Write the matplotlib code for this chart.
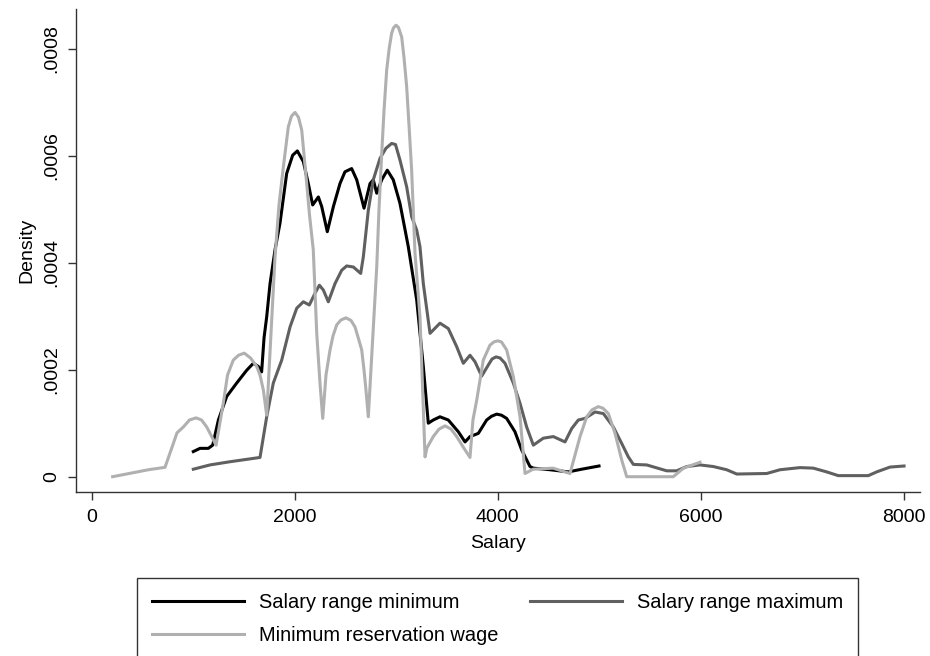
import matplotlib
matplotlib.use("Agg")
import matplotlib.pyplot as plt
from matplotlib.ticker import FuncFormatter

plt.rcParams['font.family'] = ['Liberation Sans', 'DejaVu Sans']

# Salary range minimum (black)
min_x = [1003, 1069, 1151, 1194, 1250, 1332, 1430, 1529, 1594, 1644, 1676, 1700, 1726, 1759,
         1808, 1857, 1923, 1982, 2028, 2087, 2136, 2179, 2235, 2268, 2323, 2383, 2448, 2497,
         2563, 2613, 2685, 2744, 2776, 2810, 2859, 2914, 2973, 3039, 3121, 3204, 3269, 3318,
         3367, 3433, 3515, 3614, 3680, 3729, 3811, 3893, 3941, 3992, 4039, 4090, 4172, 4238,
         4320, 4353, 4517, 4698, 4829, 5000]
min_y = [4.7e-5, 5.3e-5, 5.3e-5, 5.9e-5, 1.06e-4, 1.50e-4, 1.75e-4, 1.99e-4, 2.12e-4, 2.06e-4,
         1.96e-4, 2.6e-4, 2.99e-4, 3.61e-4, 4.24e-4, 4.74e-4, 5.67e-4, 6.01e-4, 6.09e-4, 5.89e-4,
         5.48e-4, 5.08e-4, 5.23e-4, 5.05e-4, 4.58e-4, 5.05e-4, 5.48e-4, 5.70e-4, 5.76e-4, 5.55e-4,
         5.02e-4, 5.48e-4, 5.55e-4, 5.30e-4, 5.55e-4, 5.73e-4, 5.55e-4, 5.11e-4, 4.30e-4, 3.30e-4,
         2.06e-4, 1.00e-4, 1.06e-4, 1.12e-4, 1.06e-4, 8.4e-5, 6.5e-5, 7.5e-5, 8.1e-5, 1.06e-4,
         1.13e-4, 1.17e-4, 1.15e-4, 1.09e-4, 8.4e-5, 5.0e-5, 1.9e-5, 1.6e-5, 1.3e-5, 9e-6,
         1.4e-5, 2.0e-5]

# Salary range maximum (dark gray)
max_x = [1003, 1167, 1365, 1660, 1726, 1791, 1874, 1956, 2022, 2087, 2146, 2202, 2245, 2284,
         2333, 2399, 2465, 2514, 2580, 2652, 2678, 2727, 2776, 2842, 2901, 2957, 2995, 3039,
         3105, 3154, 3204, 3236, 3269, 3335, 3433, 3515, 3598, 3663, 3729, 3778, 3844, 3910,
         3946, 3985, 4025, 4074, 4156, 4222, 4287, 4353, 4451, 4550, 4665, 4731, 4796, 4862,
         4961, 5043, 5141, 5224, 5289, 5338, 5470, 5667, 5765, 5864, 5995, 6126, 6258, 6357,
         6653, 6783, 6980, 7111, 7243, 7357, 7653, 7736, 7867, 8005]
max_y = [1.4e-5, 2.2e-5, 2.8e-5, 3.6e-5, 1.12e-4, 1.75e-4, 2.18e-4, 2.80e-4, 3.15e-4, 3.27e-4,
         3.21e-4, 3.43e-4, 3.58e-4, 3.49e-4, 3.27e-4, 3.61e-4, 3.86e-4, 3.94e-4, 3.92e-4, 3.80e-4,
         4.11e-4, 4.98e-4, 5.55e-4, 5.95e-4, 6.14e-4, 6.23e-4, 6.21e-4, 5.92e-4, 5.42e-4, 4.86e-4,
         4.61e-4, 4.30e-4, 3.61e-4, 2.68e-4, 2.87e-4, 2.77e-4, 2.43e-4, 2.12e-4, 2.27e-4, 2.15e-4,
         1.88e-4, 2.09e-4, 2.20e-4, 2.24e-4, 2.22e-4, 2.12e-4, 1.75e-4, 1.37e-4, 9.3e-5, 5.9e-5,
         7.2e-5, 7.5e-5, 6.5e-5, 9.0e-5, 1.06e-4, 1.09e-4, 1.21e-4, 1.18e-4, 9.3e-5, 6.2e-5,
         3.7e-5, 2.3e-5, 2.2e-5, 1.1e-5, 1.1e-5, 1.9e-5, 2.2e-5, 1.9e-5, 1.3e-5, 5e-6,
         6e-6, 1.3e-5, 1.7e-5, 1.6e-5, 9e-6, 2e-6, 2e-6, 9e-6, 1.8e-5, 2.0e-5]

# Minimum reservation wage (light gray)
res_x = [208, 560, 724, 806, 842, 905, 965, 1030, 1084, 1135, 1187, 1227, 1298, 1340, 1397,
         1448, 1505, 1566, 1628, 1660, 1693, 1726, 1808, 1847, 1890, 1939, 1970, 2005, 2039,
         2071, 2094, 2120, 2148, 2185, 2219, 2251, 2278, 2310, 2350, 2379, 2416, 2458, 2507,
         2557, 2596, 2635, 2662, 2685, 2704, 2727, 2810, 2832, 2859, 2882, 2908, 2933, 2957,
         2975, 3000, 3024, 3056, 3079, 3105, 3128, 3154, 3187, 3236, 3266, 3286, 3305, 3367,
         3424, 3483, 3542, 3598, 3660, 3729, 3758, 3795, 3860, 3926, 3965, 4002, 4039, 4090,
         4156, 4222, 4271, 4350, 4547, 4714, 4813, 4879, 4931, 4993, 5039, 5092, 5158, 5224,
         5273, 5732, 5832, 5995]
res_y = [0.0, 1.3e-5, 1.75e-5, 6.2e-5, 8.2e-5, 9.3e-5, 1.06e-4, 1.10e-4, 1.06e-4, 9.3e-5,
         7.4e-5, 5.9e-5, 1.37e-4, 1.90e-4, 2.18e-4, 2.27e-4, 2.31e-4, 2.22e-4, 2.06e-4, 1.90e-4,
         1.62e-4, 1.15e-4, 4.11e-4, 5.08e-4, 5.79e-4, 6.54e-4, 6.74e-4, 6.81e-4, 6.72e-4, 6.48e-4,
         6.01e-4, 5.48e-4, 4.89e-4, 4.24e-4, 2.68e-4, 1.75e-4, 1.09e-4, 1.90e-4, 2.37e-4, 2.63e-4,
         2.84e-4, 2.93e-4, 2.97e-4, 2.92e-4, 2.80e-4, 2.55e-4, 2.37e-4, 1.99e-4, 1.62e-4, 1.12e-4,
         3.92e-4, 4.98e-4, 6.04e-4, 6.85e-4, 7.60e-4, 8.01e-4, 8.29e-4, 8.39e-4, 8.44e-4, 8.40e-4,
         8.22e-4, 7.83e-4, 7.29e-4, 6.57e-4, 5.73e-4, 4.18e-4, 2.99e-4, 1.43e-4, 3.7e-5, 5.4e-5,
         7.5e-5, 8.9e-5, 9.5e-5, 8.9e-5, 7.5e-5, 5.6e-5, 3.6e-5, 1.06e-4, 1.43e-4, 2.18e-4,
         2.46e-4, 2.52e-4, 2.54e-4, 2.52e-4, 2.37e-4, 1.87e-4, 1.12e-4, 6e-6, 1.4e-5, 1.6e-5,
         6e-6, 7.5e-5, 1.12e-4, 1.25e-4, 1.31e-4, 1.28e-4, 1.18e-4, 8.1e-5, 3.1e-5, 0.0,
         0.0, 1.6e-5, 2.7e-5]

x_ticks = [0, 2000, 4000, 6000, 8000]
y_ticks = [0, 0.0002, 0.0004, 0.0006, 0.0008]

fig = plt.figure(figsize=(9.3, 6.56), dpi=100)
ax = fig.add_axes([0.0817, 0.25, 0.9075, 0.736])

l1, = ax.plot(min_x, min_y, color='black', lw=2.2, solid_joinstyle='round')
l2, = ax.plot(max_x, max_y, color='#606060', lw=2.2, solid_joinstyle='round')
l3, = ax.plot(res_x, res_y, color='#b0b0b0', lw=2.2, solid_joinstyle='round')

ax.set_xlim(-153, 8162)
ax.set_ylim(-2.86e-5, 8.74e-4)
ax.set_xticks(x_ticks)
ax.set_yticks(y_ticks)


def fmt_y(v, pos):
    if v == 0:
        return '0'
    return ('%.4f' % v).lstrip('0')


ax.yaxis.set_major_formatter(FuncFormatter(fmt_y))
ax.tick_params(axis='both', labelsize=14, length=6, width=1, color='#333333')
ax.tick_params(axis='y', pad=5)
ax.tick_params(axis='x', pad=6)
for lab in ax.get_yticklabels():
    lab.set_rotation(90)
    lab.set_va('center')

for s in ['top', 'right']:
    ax.spines[s].set_visible(False)
for s in ['left', 'bottom']:
    ax.spines[s].set_color('#333333')
    ax.spines[s].set_linewidth(1)

ax.set_xlabel('Salary', fontsize=14, labelpad=7)
ax.set_ylabel('Density', fontsize=14, labelpad=6)

leg = fig.legend([l1, l3, l2],
                 ['Salary range minimum', 'Minimum reservation wage', 'Salary range maximum'],
                 ncol=2, loc='upper left', bbox_to_anchor=(0.147, 0.119),
                 prop={'size': 14.4}, frameon=True, fancybox=False, edgecolor='black',
                 handlelength=4.6, handletextpad=0.75, columnspacing=1.6,
                 labelspacing=0.72, borderpad=0.75, borderaxespad=0)
leg.get_frame().set_linewidth(1)

fig.savefig('out.png', dpi=100)
